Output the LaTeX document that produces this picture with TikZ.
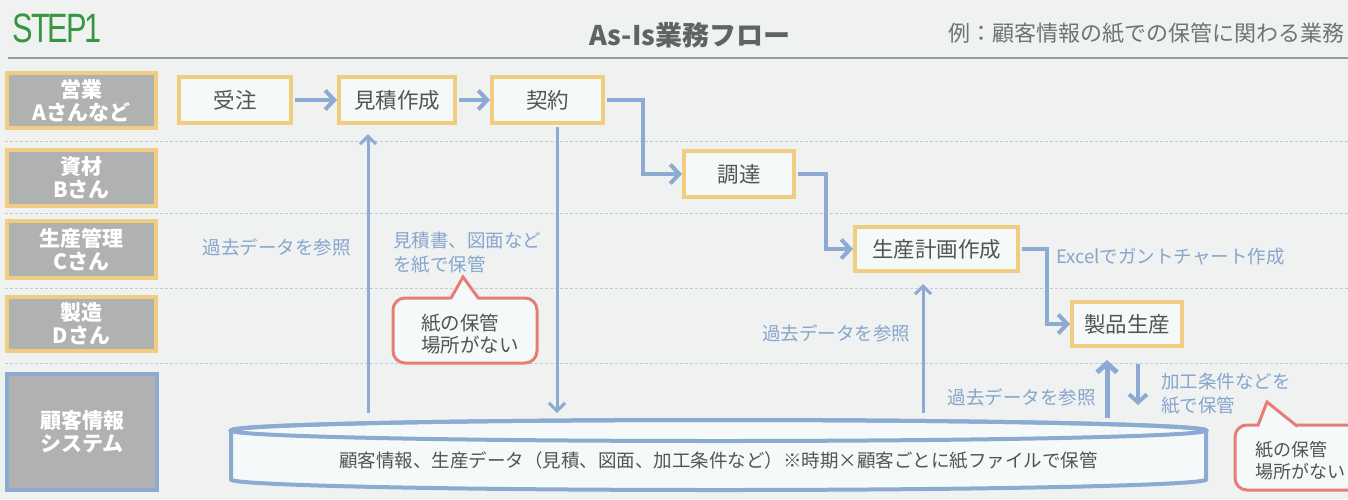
\documentclass[tikz,border=0pt]{standalone}
\usepackage{graphicx}
\usepackage{fontspec}
\setmainfont{Noto Sans CJK JP}
\newfontfamily\stepfont{Liberation Sans}
\usetikzlibrary{arrows.meta}
\definecolor{bgc}{RGB}{239,242,241}
\definecolor{lanefill}{RGB}{176,178,177}
\definecolor{ybord}{RGB}{240,205,128}
\definecolor{ablue}{RGB}{140,170,210}
\definecolor{tblue}{RGB}{135,165,205}
\definecolor{boxfill}{RGB}{246,249,249}
\definecolor{cred}{RGB}{232,125,120}
\definecolor{dtext}{RGB}{80,85,85}
\definecolor{stepgreen}{RGB}{55,150,65}
\definecolor{titlegray}{RGB}{95,100,97}
\definecolor{subgray}{RGB}{110,115,115}
\definecolor{rulegray}{RGB}{150,155,160}
\definecolor{dashgray}{RGB}{195,200,205}
\tikzset{
 lane/.style={draw=ybord, line width=4pt, fill=lanefill, text=white, font=\fontsize{21}{23}\selectfont\bfseries, align=center, inner sep=0pt},
 proc/.style={draw=ybord, line width=4pt, fill=boxfill, text=dtext, font=\fontsize{21.5}{24}\selectfont, inner sep=0pt, minimum height=46pt},
 flow/.style={draw=ablue, line width=4pt, -{Straight Barb[length=9pt,width=19pt]}},
 ref/.style={draw=ablue, line width=3pt, -{Straight Barb[length=8pt,width=16pt]}},
 note/.style={text=tblue, font=\fontsize{18.5}{24}\selectfont, inner sep=0pt, align=left},
 calltext/.style={text=dtext, font=\fontsize{19.5}{22}\selectfont, inner sep=0pt, align=left},
 callbox/.style={draw=cred, line width=3pt, fill=boxfill, rounded corners=12pt},
 calltail/.style={draw=cred, line width=3pt, line join=miter},
 sepline/.style={draw=dashgray, line width=1pt, dash pattern=on 3pt off 2pt},
 dbline/.style={draw=ablue, line width=4pt, fill=boxfill},
}
\begin{document}
\begin{tikzpicture}[x=1pt,y=-1pt]
\useasboundingbox (0,0) rectangle (1348,499);
\clip (0,0) rectangle (1348,499);
\fill[bgc] (0,0) rectangle (1348,499);

% header
\node[anchor=west, text=stepgreen, font=\stepfont\fontsize{41}{41}\selectfont, inner sep=0pt] (step) at (12,28) {\scalebox{0.75}[1]{S\kern-2pt T\kern-3pt E\kern-3pt P\kern-3pt 1}};
\node[font=\fontsize{27}{27}\selectfont\bfseries, text=titlegray, inner sep=0pt] (title) at (690,35) {As-Is業務フロー};
\node[anchor=west, font=\fontsize{22}{22}\selectfont, text=subgray, inner sep=0pt] (sub) at (948,33) {例：顧客情報の紙での保管に関わる業務};
\draw[rulegray, line width=1.2pt] (8,58) -- (1348,58);

% lane separators
\foreach \yy in {141,213,288,363} \draw[sepline] (5,\yy) -- (1348,\yy);

% lanes
\node[lane, minimum width=149pt, minimum height=55pt] (l1) at (81.5,100.5) {営業\\Aさんなど};
\node[lane, minimum width=149pt, minimum height=56pt] (l2) at (81.5,178) {資材\\Bさん};
\node[lane, minimum width=149pt, minimum height=57pt] (l3) at (81.5,249.5) {生産管理\\Cさん};
\node[lane, minimum width=149pt, minimum height=54pt] (l4) at (81.5,324) {製造\\Dさん};
\node[lane, draw=ablue, minimum width=150pt, minimum height=116pt] (l5) at (82,432) {顧客情報\\システム};

% process boxes
\node[proc, minimum width=112pt] (juchu) at (235,100) {受注};
\node[proc, minimum width=116pt] (mitsu) at (397,100) {見積作成};
\node[proc, minimum width=111pt] (keiyaku) at (547.5,100) {契約};
\node[proc, minimum width=110pt] (chotatsu) at (739,174) {調達};
\node[proc, minimum width=163pt, minimum height=44pt] (keikaku) at (936.5,249) {生産計画作成};
\node[proc, minimum width=110pt, minimum height=44pt] (seisan) at (1127,324) {製品生産};

% flow arrows
\draw[flow, shorten <=2pt] (juchu.east) -- (mitsu.west);
\draw[flow, shorten <=2pt] (mitsu.east) -- (keiyaku.west);
\draw[flow, shorten <=2pt] (keiyaku.east) -- ++(38,0) |- (chotatsu.west);
\draw[flow, shorten <=2pt] (chotatsu.east) -- ++(30,0) |- (keikaku.west);
\draw[flow, shorten <=2pt] (keikaku.east) -- ++(27,0) |- (seisan.west);

% database cylinder
\coordinate (dbc) at (718.5,430.5);
\filldraw[dbline] (231,430.5) -- (231,479.5) arc[start angle=180,end angle=360,x radius=487.5pt,y radius=10.5pt] -- (1206,430.5) arc[start angle=0,end angle=180,x radius=487.5pt,y radius=10.5pt] -- cycle;
\draw[dbline, fill=none] (dbc) ellipse[x radius=487.5pt, y radius=10.5pt];
\node[font=\fontsize{18.5}{20}\selectfont, text=dtext, inner sep=0pt] (db) at (718.5,461) {顧客情報、生産データ（見積、図面、加工条件など）※時期×顧客ごとに紙ファイルで保管};

% vertical reference arrows
\coordinate (d1) at (368,413);
\coordinate (d2) at (557,413);
\coordinate (d3) at (923,413);
\coordinate (d4) at (1107,418);
\coordinate (d5) at (1138,405);
\draw[ref, shorten >=9pt] (d1) -- (d1 |- mitsu.south);
\draw[ref, shorten <=2pt] (keiyaku.south -| d2) -- (d2);
\draw[ref, shorten >=11pt] (d3) -- (d3 |- keikaku.south);
\draw[ref, line width=5pt, -{Straight Barb[length=9pt,width=20pt]}, shorten >=12pt] (d4) -- (d4 |- seisan.south);
\draw[ref, line width=4pt, -{Straight Barb[length=8pt,width=18pt]}, shorten <=16pt] (seisan.south -| d5) -- (d5);

% notes
\node[note] (n1) at (276.5,247) {過去データを参照};
\node[note, anchor=west] (n2) at (393,253) {見積書、図面など\\を紙で保管};
\node[note] (n3) at (836,333) {過去データを参照};
\node[note, anchor=west] (n4) at (1056,257) {Excelでガントチャート作成};
\node[note, anchor=east] (n5) at (1096,397) {過去データを参照};
\node[note, anchor=west] (n6) at (1161,394) {加工条件などを\\紙で保管};

% callout 1
\draw[callbox] (393,298) rectangle (537,363);
\fill[boxfill] (449.5,301) -- (463,277) -- (480,301) -- cycle;
\draw[calltail] (450.5,299) -- (463,277) -- (479,299);
\node[calltext, anchor=west] (c1) at (421,334) {紙の保管\\場所がない};

% callout 2
\draw[callbox] (1235,425) rectangle (1400,490);
\fill[boxfill] (1256,428) -- (1267,402) -- (1299,428) -- cycle;
\draw[calltail] (1257.5,426.5) -- (1267,402) -- (1297.5,426.5);
\node[calltext, anchor=west, font=\fontsize{18}{22}\selectfont] (c2) at (1255,461) {紙の保管\\場所がない};
\end{tikzpicture}
\end{document}
